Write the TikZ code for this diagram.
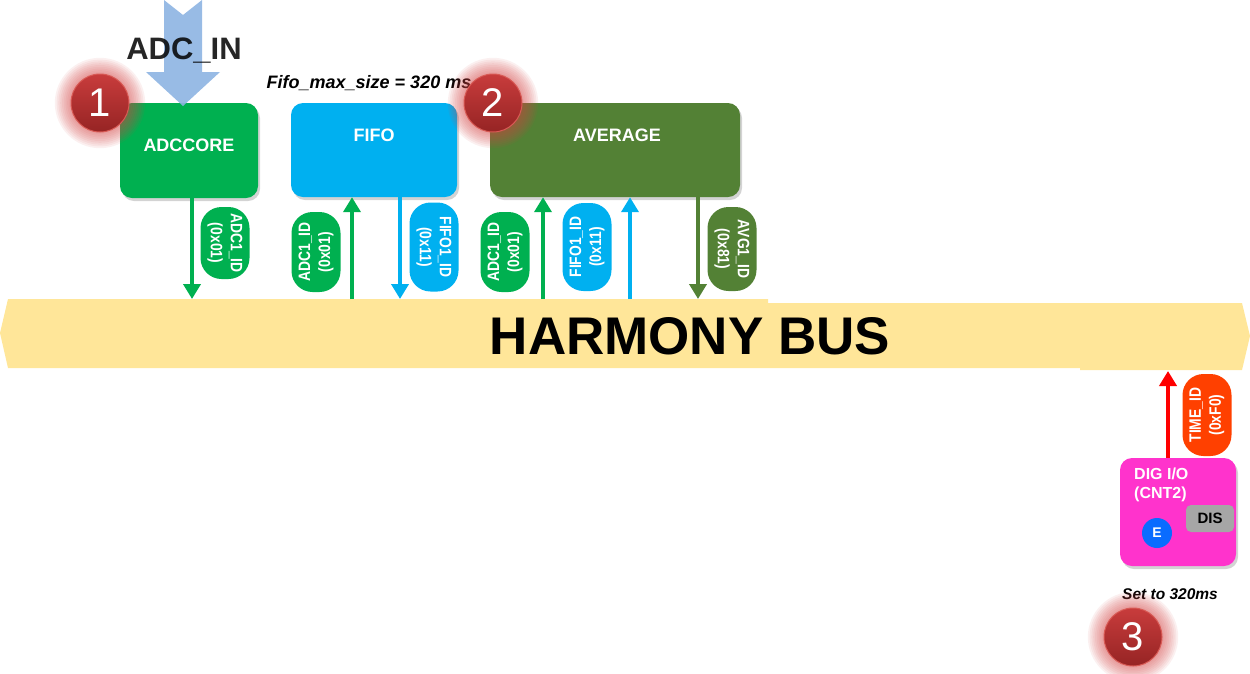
\documentclass[tikz,border=0pt]{standalone}
\usepackage{fontspec}
\setmainfont{Liberation Sans}
\newfontfamily\narrowsans[FakeStretch=0.84]{Liberation Sans}
\usetikzlibrary{arrows.meta,shadows,calc}
\definecolor{adcgreen}{HTML}{00B050}
\definecolor{fifoblue}{HTML}{00B0F0}
\definecolor{avggreen}{HTML}{538135}
\definecolor{busyellow}{HTML}{FFE699}
\definecolor{digmag}{HTML}{FF33CC}
\definecolor{timered}{HTML}{FF4000}
\definecolor{arrred}{HTML}{FF0000}
\definecolor{eblue}{HTML}{0A6CFF}
\definecolor{disgray}{HTML}{A6A6A6}
\definecolor{adcin}{HTML}{8DB4E2}
\definecolor{badgetop}{HTML}{C83C3C}
\definecolor{badgebot}{HTML}{962424}
\definecolor{badgeedge}{HTML}{D85A55}
\definecolor{glowred}{HTML}{D24545}
\tikzset{
  blockbox/.style={rounded corners=12pt, inner sep=0pt,
    drop shadow={shadow xshift=2pt, shadow yshift=-3pt, opacity=0.35}},
  boxtext/.style={text=white, inner sep=0pt, font=\bfseries\fontsize{18}{21}\selectfont},
  pill/.style={text=white, align=center, inner sep=0pt, rounded corners=21pt,
    minimum height=49pt, font=\narrowsans\bfseries\fontsize{16.5}{20}\selectfont},
  conn/.style={line width=4.5pt, -{Triangle[width=17pt,length=15pt]}},
  badge/.style={circle, minimum size=58pt, inner sep=0pt, top color=badgetop,
    bottom color=badgebot, draw=badgeedge, line width=1pt, text=white,
    font=\fontsize{40}{44}\selectfont},
  italtext/.style={inner sep=0pt, font=\bfseries\itshape\fontsize{18}{20}\selectfont}
}
\begin{document}
\begin{tikzpicture}[x=1pt,y=-1pt]
\useasboundingbox (0,0) rectangle (1250,673);
% bus
\fill[busyellow] (8,299) -- (768,299) -- (768,303) -- (1242,303) -- (1250,336)
  -- (1242,370) -- (1080,370) -- (1080,368) -- (8,368) -- (0,333) -- cycle;
\node[inner sep=0pt, font=\bfseries\fontsize{53}{56}\selectfont] (bus) at (690,336) {HARMONY BUS};
% bus attach points
\coordinate (b1) at (192,299);
\coordinate (b2) at (352,299);
\coordinate (b3) at (400,299);
\coordinate (b4) at (543,299);
\coordinate (b5) at (630,299);
\coordinate (b6) at (698,299);
\coordinate (b7) at (1168,371);
% boxes
\node[blockbox, fill=adcgreen, minimum width=138pt, minimum height=95pt] (adc) at (189,150.5) {};
\node[blockbox, fill=fifoblue, minimum width=166pt, minimum height=94pt] (fifo) at (374,150) {};
\node[blockbox, fill=avggreen, minimum width=250pt, minimum height=94pt] (avg) at (615,150) {};
\node[boxtext] (adct) at ([yshift=5pt]adc.center) {ADCCORE};
\node[boxtext] (fifot) at ([yshift=15pt]fifo.center) {FIFO};
\node[boxtext] (avgt) at ([yshift=15pt,xshift=2pt]avg.center) {AVERAGE};
% ADC_IN
\fill[adcin, opacity=0.9] (164,0) -- (183,15) -- (202,0) -- (202,72) -- (220,72)
  -- (183,106) -- (146,72) -- (164,72) -- cycle;
\node[inner sep=0pt, opacity=0.85, font=\bfseries\fontsize{31}{34}\selectfont] (adcin) at (184,51) {ADC\_IN};
% Fifo text
\node[italtext] (fifomax) at (369,83) {Fifo\_max\_size = 320 ms};
% arrows
\draw[conn, adcgreen] (adc.south -| b1) -- (b1);
\draw[conn, adcgreen] (b2) -- (fifo.south -| b2);
\draw[conn, fifoblue] (fifo.south -| b3) -- (b3);
\draw[conn, adcgreen] (b4) -- (avg.south -| b4);
\draw[conn, fifoblue] (b5) -- (avg.south -| b5);
\draw[conn, avggreen] (avg.south -| b6) -- (b6);
% pills
\node[pill, fill=adcgreen, rotate=-90, minimum width=72pt] (p1) at (225,243) {ADC1\_ID\\(0x01)};
\node[pill, fill=adcgreen, rotate=90, minimum width=80pt] (p2) at (316,252) {ADC1\_ID\\(0x01)};
\node[pill, fill=fifoblue, rotate=-90, minimum width=89pt] (p3) at (434,247) {FIFO1\_ID\\(0x11)};
\node[pill, fill=adcgreen, rotate=90, minimum width=80pt] (p4) at (505,252) {ADC1\_ID\\(0x01)};
\node[pill, fill=fifoblue, rotate=90, minimum width=88pt] (p5) at (587,247) {FIFO1\_ID\\(0x11)};
\node[pill, fill=avggreen, rotate=-90, minimum width=84pt] (p6) at (732,249) {AVG1\_ID\\(0x81)};
% DIG I/O
\node[blockbox, fill=digmag, minimum width=116pt, minimum height=108pt] (dig) at (1178,512) {};
\node[inner sep=0pt, anchor=north west, align=left, text=white,
  font=\bfseries\fontsize{16}{19}\selectfont] (digt) at (1134,468) {DIG I/O\\(CNT2)};
\node[fill=disgray, rounded corners=5pt, minimum width=48pt, minimum height=27pt,
  inner sep=0pt, font=\bfseries\fontsize{15}{17}\selectfont] (dis) at (1210,518.5) {DIS};
\node[circle, fill=eblue, minimum size=30pt, inner sep=0pt, text=white,
  font=\bfseries\fontsize{14}{16}\selectfont] (e) at (1157,533) {E};
\draw[conn, arrred] (dig.north -| b7) -- (b7);
\node[pill, fill=timered, rotate=90, minimum width=82pt] (pt) at (1207,415) {TIME\_ID\\(0xF0)};
\node[inner sep=0pt, font=\bfseries\itshape\fontsize{15.5}{18}\selectfont] (setto) at (1170,594) {Set to 320ms};
% badges
\coordinate (c1) at (100,103);
\coordinate (c2) at (493,103);
\coordinate (c3) at (1133,637);
\foreach \c in {c1,c2,c3}{
  \foreach \r in {1,...,9}{
    \fill[glowred, opacity=0.08] (\c) circle ({29+1.8*\r});
  }
}
\node[badge] (n1) at (c1) {1};
\node[badge] (n2) at (c2) {2};
\node[badge] (n3) at (c3) {3};
\end{tikzpicture}
\end{document}
